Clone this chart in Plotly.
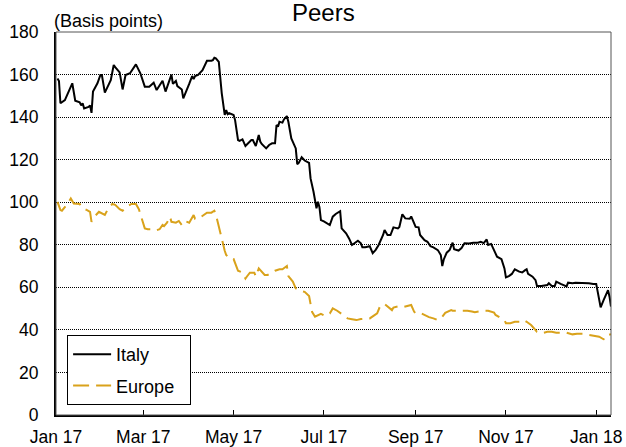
import plotly.graph_objects as go

# Italy spread, basis points
italy_dates = [
    '2017-01-02', '2017-01-03', '2017-01-04', '2017-01-07', '2017-01-12', '2017-01-14',
    '2017-01-17', '2017-01-18', '2017-01-19', '2017-01-20', '2017-01-23', '2017-01-24',
    '2017-01-25', '2017-01-26', '2017-01-29', '2017-01-31', '2017-02-01', '2017-02-03',
    '2017-02-07', '2017-02-09', '2017-02-10', '2017-02-13', '2017-02-15', '2017-02-17',
    '2017-02-20', '2017-02-24', '2017-02-27', '2017-03-02', '2017-03-05', '2017-03-08',
    '2017-03-10', '2017-03-13', '2017-03-14', '2017-03-16', '2017-03-18', '2017-03-20',
    '2017-03-21', '2017-03-23', '2017-03-24', '2017-03-26', '2017-03-27', '2017-03-28',
    '2017-03-30', '2017-04-01', '2017-04-03', '2017-04-04', '2017-04-05', '2017-04-07',
    '2017-04-10', '2017-04-13', '2017-04-16', '2017-04-17', '2017-04-18', '2017-04-19',
    '2017-04-21', '2017-04-22', '2017-04-23', '2017-04-25', '2017-04-26', '2017-04-27',
    '2017-04-28', '2017-05-01', '2017-05-02', '2017-05-03', '2017-05-04', '2017-05-05',
    '2017-05-07', '2017-05-09', '2017-05-11', '2017-05-13', '2017-05-14', '2017-05-16',
    '2017-05-18', '2017-05-19', '2017-05-20', '2017-05-23', '2017-05-25', '2017-05-27',
    '2017-05-29', '2017-05-30', '2017-05-31', '2017-06-01', '2017-06-03', '2017-06-04',
    '2017-06-06', '2017-06-07', '2017-06-09', '2017-06-12', '2017-06-13', '2017-06-14',
    '2017-06-16', '2017-06-18', '2017-06-21', '2017-06-22', '2017-06-24', '2017-06-26',
    '2017-06-27', '2017-06-28', '2017-06-29', '2017-07-01', '2017-07-05', '2017-07-07',
    '2017-07-09', '2017-07-11', '2017-07-12', '2017-07-13', '2017-07-16', '2017-07-18',
    '2017-07-20', '2017-07-24', '2017-07-26', '2017-07-27', '2017-07-29', '2017-08-01',
    '2017-08-03', '2017-08-05', '2017-08-07', '2017-08-10', '2017-08-11', '2017-08-13',
    '2017-08-15', '2017-08-17', '2017-08-20', '2017-08-21', '2017-08-23', '2017-08-25',
    '2017-08-28', '2017-08-29', '2017-09-01', '2017-09-03', '2017-09-04', '2017-09-07',
    '2017-09-09', '2017-09-11', '2017-09-13', '2017-09-16', '2017-09-18', '2017-09-19',
    '2017-09-20', '2017-09-22', '2017-09-24', '2017-09-26', '2017-09-27', '2017-09-30',
    '2017-10-02', '2017-10-04', '2017-10-07', '2017-10-10', '2017-10-13', '2017-10-15',
    '2017-10-17', '2017-10-19', '2017-10-20', '2017-10-22', '2017-10-24', '2017-10-26',
    '2017-10-29', '2017-10-31', '2017-11-01', '2017-11-03', '2017-11-05', '2017-11-07',
    '2017-11-10', '2017-11-12', '2017-11-14', '2017-11-15', '2017-11-16', '2017-11-19',
    '2017-11-21', '2017-11-22', '2017-11-25', '2017-11-29', '2017-11-30', '2017-12-02',
    '2017-12-04', '2017-12-05', '2017-12-08', '2017-12-10', '2017-12-12', '2017-12-13',
    '2017-12-16', '2017-12-18', '2017-12-20', '2017-12-23', '2017-12-27', '2017-12-30',
    '2018-01-01', '2018-01-02', '2018-01-04', '2018-01-06', '2018-01-09', '2018-01-10',
    '2018-01-11',
]
italy = [
    158.2, 157, 146.5, 148, 155.9, 147.7,
    147, 145.5, 146.5, 144.1, 144.8, 145.5,
    142, 152, 155.9, 159.8, 159.8, 151.5,
    157.4, 164.5, 163.5, 161, 153, 159.8,
    160.6, 164.8, 160.6, 154.3, 154.3, 156.2,
    152.7, 155.6, 157.1, 152, 155.6, 160,
    155.6, 157, 154.6, 153.5, 153, 148.8,
    152.7, 155.6, 159.3, 157.9, 159.3, 159.8,
    162.1, 166.5, 166.5, 166.8, 167.9, 167.6,
    166, 159, 151.2, 141, 143.3, 141.4,
    141.9, 141, 138.6, 133.9, 129.2, 128.8,
    129.5, 126.4, 127.7, 129.2, 129.2, 126.4,
    131.6, 128.5, 127.4, 125.3, 126.9, 127.7,
    127.7, 136.3, 135.5, 137.8, 137.4, 138.9,
    140.5, 137.8, 130, 125.3, 117.9, 118.5,
    121.1, 119.6, 118.5, 111.2, 104.9, 97.1,
    100.2, 97.7, 91.6, 91, 89.3, 93.2,
    94.5, 95.2, 95.8, 87.7, 85.4, 83,
    79.9, 81.9, 80.7, 78.8, 78.8, 79.3,
    76.1, 77.6, 79.9, 84.6, 86.9, 84.6,
    84.6, 88.2, 87.7, 88.4, 94.3, 92.4,
    92.2, 93.3, 88.4, 88.2, 84.6, 82.2,
    81.4, 79.3, 78.8, 77.5, 75.2, 70,
    73.1, 76.3, 77.6, 81, 77.9, 77.3,
    78.5, 80.7, 80.6, 81, 81, 81.4,
    80.8, 82.5, 79.9, 80.4, 77.5, 74.4,
    73.2, 68.9, 64.7, 65.3, 66.3, 68.5,
    67.4, 67, 68.1, 68.5, 66.3, 65,
    63.4, 60.6, 60.6, 61.1, 61.9, 60.6,
    60.6, 62.7, 61.6, 61.1, 60.4, 62.2,
    61.9, 62.2, 62.2, 61.9, 61.9, 61.6,
    61.6, 58, 50.6, 54, 58.7, 55.6,
    51,
]

# Europe spread, basis points
europe_dates = [
    '2017-01-02', '2017-01-04', '2017-01-05', '2017-01-09', '2017-01-11', '2017-01-13',
    '2017-01-17', '2017-01-19', '2017-01-22', '2017-01-24', '2017-01-25', '2017-01-27',
    '2017-01-30', '2017-02-03', '2017-02-05', '2017-02-08', '2017-02-10', '2017-02-13',
    '2017-02-15', '2017-02-17', '2017-02-21', '2017-02-24', '2017-02-26', '2017-02-28',
    '2017-03-02', '2017-03-04', '2017-03-06', '2017-03-09', '2017-03-12', '2017-03-14',
    '2017-03-15', '2017-03-17', '2017-03-18', '2017-03-19', '2017-03-20', '2017-03-23',
    '2017-03-25', '2017-03-27', '2017-03-29', '2017-04-01', '2017-04-04', '2017-04-05',
    '2017-04-08', '2017-04-10', '2017-04-13', '2017-04-16', '2017-04-18', '2017-04-19',
    '2017-04-21', '2017-04-23', '2017-04-25', '2017-04-26', '2017-04-28', '2017-05-01',
    '2017-05-03', '2017-05-04', '2017-05-07', '2017-05-09', '2017-05-10', '2017-05-12',
    '2017-05-15', '2017-05-16', '2017-05-18', '2017-05-20', '2017-05-22', '2017-05-24',
    '2017-05-29', '2017-06-01', '2017-06-03', '2017-06-06', '2017-06-07', '2017-06-10',
    '2017-06-12', '2017-06-15', '2017-06-18', '2017-06-21', '2017-06-22', '2017-06-23',
    '2017-06-25', '2017-06-29', '2017-07-02', '2017-07-05', '2017-07-07', '2017-07-10',
    '2017-07-14', '2017-07-17', '2017-07-20', '2017-07-23', '2017-07-26', '2017-07-29',
    '2017-08-01', '2017-08-06', '2017-08-08', '2017-08-11', '2017-08-13', '2017-08-16',
    '2017-08-17', '2017-08-21', '2017-08-24', '2017-08-29', '2017-08-31', '2017-09-01',
    '2017-09-04', '2017-09-07', '2017-09-10', '2017-09-13', '2017-09-16', '2017-09-19',
    '2017-09-21', '2017-09-25', '2017-09-26', '2017-10-02', '2017-10-06', '2017-10-09',
    '2017-10-11', '2017-10-17', '2017-10-20', '2017-10-24', '2017-10-25', '2017-10-31',
    '2017-11-01', '2017-11-04', '2017-11-07', '2017-11-11', '2017-11-13', '2017-11-15',
    '2017-11-18', '2017-11-20', '2017-11-22', '2017-11-25', '2017-11-29', '2017-12-02',
    '2017-12-05', '2017-12-09', '2017-12-12', '2017-12-16', '2017-12-19', '2017-12-23',
    '2017-12-27', '2017-12-30', '2018-01-03', '2018-01-06', '2018-01-08', '2018-01-09',
    '2018-01-11',
]
europe = [
    100.2, 96.3, 96, 99.4, 101.8, 99.4,
    99.2, 97.1, 96.3, 95.5, 90.8, 93.2,
    95.5, 94, 96.7, 99.2, 98.8, 96.7,
    96, 97.6, 99.2, 99.2, 96.7, 92,
    87.7, 87.3, 87.3, 86.6, 87.3, 89.3,
    88.8, 90.4, 92, 93.2, 90.8, 90.4,
    91.2, 89.3, 91.2, 90.4, 94, 92.2,
    92.6, 93.5, 95.1, 95.1, 96, 94.3,
    88.5, 82.2, 77.2, 75.2, 73.6, 73.3,
    69.7, 67.8, 66.9, 64.1, 65.1, 66.9,
    66.9, 65.1, 68.9, 67.4, 65.8, 65.8,
    67.8, 68.5, 68.5, 70, 65.3, 62.7,
    59.5, 58.4, 57.9, 55.9, 52.5, 48.5,
    46.2, 47.5, 46.5, 47.7, 50.1, 49,
    47, 45.4, 45, 44.6, 45.1, 45.1,
    45.4, 47.8, 51.2, 52.2, 51.2, 49.3,
    50.5, 51.2, 50.8, 51.7, 48.5, 47.8,
    48, 47, 46, 45.4, 44.6, 46.2,
    48, 49.3, 49, 49, 49, 48.6,
    48.3, 49, 49, 48.1, 47, 44.6,
    43.1, 43.1, 43.8, 43.8, 44.6, 43.8,
    42.3, 40.7, 39.1, 38.4, 39.1, 39.1,
    38.7, 38.7, 38.7, 37.9, 38.2, 38.2,
    37.7, 37.6, 36.8, 35.6, 36, 37.6,
    38,
]

tick_dates = ['2017-01-01', '2017-03-01', '2017-05-01', '2017-07-01',
              '2017-09-01', '2017-11-01', '2018-01-01']
tick_labels = ['Jan 17', 'Mar 17', 'May 17', 'Jul 17', 'Sep 17', 'Nov 17', 'Jan 18']

font = 'Liberation Sans, Arial, sans-serif'

fig = go.Figure()
fig.add_trace(go.Scatter(x=italy_dates, y=italy, mode='lines', name='Italy',
                         legendgroup='a', line=dict(color='black', width=2)))
# trailing nbsp just widens the legend box a little
fig.add_trace(go.Scatter(x=europe_dates, y=europe, mode='lines',
                         name='Europe\u00a0\u00a0', legendgroup='b',
                         line=dict(color='#D9A21B', width=2, dash='16px,7px')))

fig.update_layout(
    width=626, height=447,
    margin=dict(l=56, r=15, t=32, b=32),
    paper_bgcolor='white', plot_bgcolor='white',
    font=dict(family=font, size=17.5, color='black'),
    showlegend=True,
    legend=dict(x=0.02, y=0.209, xanchor='left', yanchor='top',
                bgcolor='white', bordercolor='black', borderwidth=1,
                font=dict(size=18), itemwidth=38, tracegroupgap=5),
    xaxis=dict(range=['2017-01-01', '2018-01-11'], tickvals=tick_dates,
               ticktext=tick_labels, ticks='inside', ticklen=5, tickcolor='black',
               showgrid=False, showline=True, linecolor='black', linewidth=2,
               zeroline=False, automargin=False, ticklabelstandoff=5),
    yaxis=dict(range=[0, 180], dtick=20, ticks='', showline=True,
               linecolor='black', linewidth=2, zeroline=False, automargin=False,
               ticklabelstandoff=12,
               showgrid=True, gridcolor='black', gridwidth=1, griddash='1px,1px'),
    shapes=[dict(type='rect', xref='paper', yref='paper', x0=0, x1=1, y0=0, y1=1,
                 line=dict(color='#555555', width=1), layer='above')],
    annotations=[
        dict(text='Peers', xref='paper', yref='paper', x=0.482, y=1.050,
             xanchor='center', yanchor='middle', showarrow=False,
             font=dict(size=24)),
        dict(text='(Basis points)', xref='paper', yref='paper', x=-0.008, y=1.029,
             xanchor='left', yanchor='middle', showarrow=False,
             font=dict(size=18)),
    ],
)

fig.write_html('out.html', config={'displayModeBar': False},
               post_script="document.body.style.margin='0';")
